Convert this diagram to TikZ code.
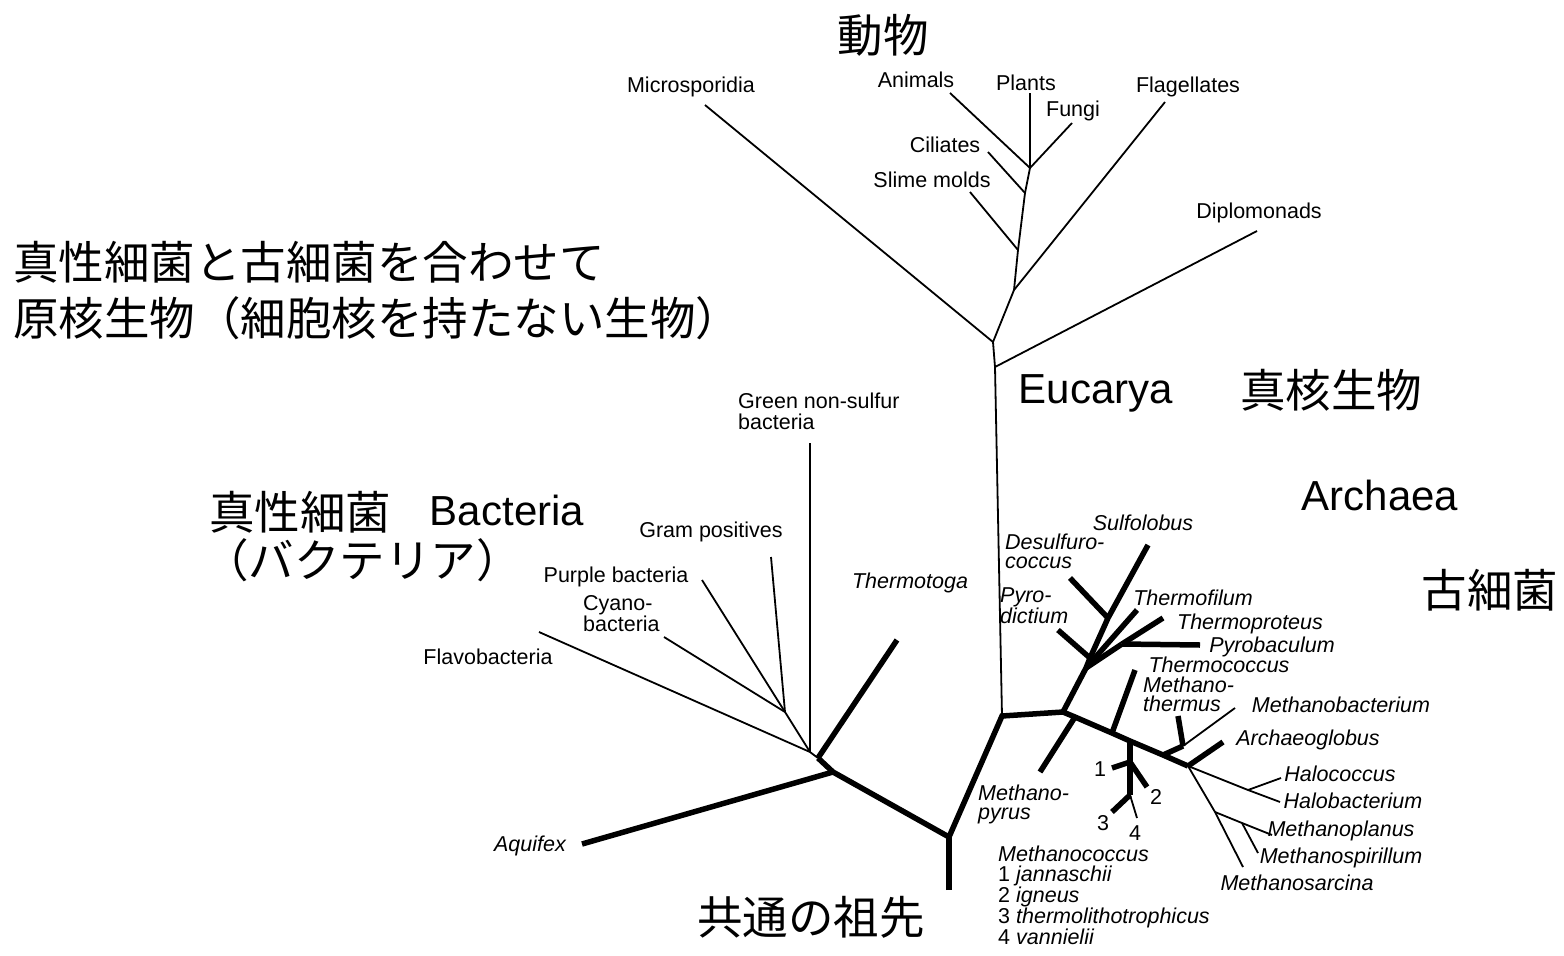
\documentclass[tikz,border=0pt]{standalone}
\usepackage{fontspec}
\setmainfont{Liberation Sans}
\newfontfamily\jp{Noto Sans CJK JP}
\begin{document}
\begin{tikzpicture}[x=1pt,y=-1pt,
  br/.style={line width=1.8pt},
  tk/.style={line width=5.5pt},
  lab/.style={font=\fontsize{21.5}{21}\selectfont, inner sep=0pt},
  ilab/.style={font=\fontsize{21.5}{21}\selectfont\itshape, inner sep=0pt},
  lab2/.style={font=\fontsize{21.5}{21}\selectfont, inner sep=0pt, align=left, anchor=west},
  ilab2/.style={font=\fontsize{21.5}{19}\selectfont\itshape, inner sep=0pt, align=left, anchor=west},
  big/.style={font=\fontsize{42}{45}\selectfont, inner sep=0pt},
  jlab/.style={font=\fontsize{45.5}{56}\selectfont\jp, inner sep=0pt},
]
\useasboundingbox (0,0) rectangle (1564,956);
% ---------- coordinates ----------
% root
\coordinate (rb) at (949,890);
\coordinate (r0) at (949,837);
% bacteria
\coordinate (bj) at (833,772);
\coordinate (b0) at (818,758);
\coordinate (bf) at (810,752);
\coordinate (bg) at (785,712);
\coordinate (aq) at (582,844);
\coordinate (tt) at (897,640);
\coordinate (gn) at (810,443);
\coordinate (gp) at (771,557);
\coordinate (pu) at (702,580);
\coordinate (cy) at (664,637);
\coordinate (fl) at (539,632);
% eucarya
\coordinate (a0) at (1002,716);
\coordinate (e1) at (995,367);
\coordinate (e0) at (993,342);
\coordinate (ef) at (1014,290);
\coordinate (es) at (1018,250);
\coordinate (ec) at (1025,193);
\coordinate (et) at (1030,168);
\coordinate (mi) at (705,105);
\coordinate (di) at (1257,231);
\coordinate (fla) at (1165,102);
\coordinate (sl) at (970,192);
\coordinate (ci) at (988,152);
\coordinate (an) at (950,93);
\coordinate (pl) at (1030,93);
\coordinate (fu) at (1072,123);
% archaea
\coordinate (a1) at (1063,712);
\coordinate (c1) at (1086,668);
\coordinate (c2) at (1090,658);
\coordinate (c3) at (1108,618);
\coordinate (so) at (1148,545);
\coordinate (de) at (1070,578);
\coordinate (py) at (1058,630);
\coordinate (tf) at (1137,610);
\coordinate (t1) at (1122,644);
\coordinate (tp) at (1163,618);
\coordinate (pb) at (1200,645);
\coordinate (m1) at (1075,717);
\coordinate (m2) at (1112,733);
\coordinate (m3) at (1130,741);
\coordinate (m4) at (1163,755);
\coordinate (e5) at (1188,766);
\coordinate (mp) at (1040,772);
\coordinate (tc) at (1135,670);
\coordinate (k1) at (1130,762);
\coordinate (k1e) at (1112,768);
\coordinate (k2e) at (1147,787);
\coordinate (mc) at (1130,795);
\coordinate (k3e) at (1112,812);
\coordinate (k4e) at (1137,818);
\coordinate (mt0) at (1183,746);
\coordinate (mth) at (1178,716);
\coordinate (mb) at (1235,708);
\coordinate (ag) at (1223,742);
\coordinate (hj) at (1248,790);
\coordinate (hc) at (1281,778);
\coordinate (hb) at (1280,802);
\coordinate (mj) at (1215,812);
\coordinate (ms) at (1243,867);
\coordinate (mj2) at (1242,823);
\coordinate (mpl) at (1272,835);
\coordinate (msp) at (1258,853);

% ---------- branches ----------
% root and bacteria
\draw[tk] (rb) -- (r0);
\draw[tk] (r0) -- (bj) -- (b0);
\draw[tk] (aq) -- (bj);
\draw[tk] (b0) -- (tt);
\draw[br] (b0) -- (bf);
\draw[br] (gn) -- (bf);
\draw[br] (fl) -- (bf);
\draw[br] (bg) -- (bf);
\draw[br] (pu) -- (bg);
\draw[br] (cy) -- (bg);
\draw[br] (gp) -- (bg);
% archaea / eucarya stem
\draw[tk] (r0) -- (a0) -- (a1);
\draw[br] (a0) -- (e1) -- (e0);
% eucarya
\draw[br] (e0) -- (mi);
\draw[br] (e1) -- (di);
\draw[br] (e0) -- (ef) -- (es) -- (ec) -- (et);
\draw[br] (ef) -- (fla);
\draw[br] (es) -- (sl);
\draw[br] (ec) -- (ci);
\draw[br] (et) -- (an);
\draw[br] (et) -- (pl);
\draw[br] (et) -- (fu);
% crenarchaeota
\draw[tk] (a1) -- (c1) -- (c2) -- (c3) -- (so);
\draw[tk] (de) -- (c3);
\draw[tk] (py) -- (c2);
\draw[tk] (c1) -- (tf);
\draw[tk] (c1) -- (t1);
\draw[tk] (t1) -- (tp);
\draw[tk] (t1) -- (pb);
% euryarchaeota
\draw[tk] (a1) -- (m1) -- (m2) -- (m3) -- (m4) -- (e5);
\draw[tk] (m1) -- (mp);
\draw[tk] (m2) -- (tc);
\draw[tk] (m3) -- (mc);
\draw[tk] (k1) -- (k1e);
\draw[tk] (k1) -- (k2e);
\draw[tk] (mc) -- (k3e);
\draw[br] (mc) -- (k4e);
\draw[tk] (m4) -- (mt0);
\draw[tk] (mt0) -- (mth);
\draw[br] (mt0) -- (mb);
\draw[tk] (e5) -- (ag);
\draw[br] (e5) -- (hj) -- (hb);
\draw[br] (hj) -- (hc);
\draw[br] (e5) -- (mj) -- (ms);
\draw[br] (mj) -- (mj2) -- (mpl);
\draw[br] (mj2) -- (msp);

% ---------- labels ----------
\node[jlab] (jdobutsu) at (883,35) {動物};
\node[jlab,anchor=west] (jgen1) at (13,262) {真性細菌と古細菌を合わせて};
\node[jlab,anchor=west] (jgen2) at (13,318) {原核生物（細胞核を持たない生物）};
\node[big] (leuc) at (1096,393) {Eucarya};
\node[jlab] (jeuc) at (1331,390) {真核生物};
\node[jlab] (jbac) at (300,512) {真性細菌};
\node[big] (lbac) at (507,510) {Bacteria};
\node[jlab,anchor=west] (jbac2) at (203,560) {（バクテリア）};
\node[big] (larc) at (1380,495) {Archaea};
\node[jlab] (jarc) at (1490,590) {古細菌};
\node[jlab] (jroot) at (811,917) {共通の祖先};

\node[lab] (nmi) at (691,87) {Microsporidia};
\node[lab] (nan) at (916,80) {Animals};
\node[lab] (npl) at (1026,83) {Plants};
\node[lab] (nfu) at (1073,111) {Fungi};
\node[lab] (nfla) at (1188,87) {Flagellates};
\node[lab] (nci) at (945,145) {Ciliates};
\node[lab] (nsl) at (932,180) {Slime molds};
\node[lab] (ndi) at (1259,213) {Diplomonads};

\node[lab2] (ngn) at (738,411) {Green non-sulfur\\bacteria};
\node[lab] (ngp) at (711,532) {Gram positives};
\node[lab] (npu) at (616,577) {Purple bacteria};
\node[lab2] (ncy) at (583,614) {Cyano-\\bacteria};
\node[lab] (nfl) at (488,657) {Flavobacteria};
\node[ilab] (ntt) at (910,583) {Thermotoga};
\node[ilab] (naq) at (530,846) {Aquifex};

\node[ilab2] (nde) at (1005,551) {Desulfuro-\\coccus};
\node[ilab] (nso) at (1143,523) {Sulfolobus};
\node[ilab2] (npy) at (1000,606) {Pyro-\\dictium};
\node[ilab] (ntf) at (1193,598) {Thermofilum};
\node[ilab] (ntp) at (1250,624) {Thermoproteus};
\node[ilab] (npb) at (1272,647) {Pyrobaculum};
\node[ilab] (ntc) at (1219,665) {Thermococcus};
\node[ilab2] (nmth) at (1143,694) {Methano-\\thermus};
\node[ilab] (nmb) at (1341,705) {Methanobacterium};
\node[ilab] (nag) at (1308,740) {Archaeoglobus};
\node[ilab] (nhc) at (1340,774) {Halococcus};
\node[ilab] (nhb) at (1353,801) {Halobacterium};
\node[ilab] (nmpl) at (1341,831) {Methanoplanus};
\node[ilab] (nmsp) at (1341,858) {Methanospirillum};
\node[ilab] (nms) at (1297,883) {Methanosarcina};
\node[ilab2] (nmp) at (978,804) {Methano-\\pyrus};

\node[lab] (n1) at (1100,769) {1};
\node[lab] (n2) at (1156,797) {2};
\node[lab] (n3) at (1103,823) {3};
\node[lab] (n4) at (1135,833) {4};
\node[font=\fontsize{21.5}{20}\selectfont, inner sep=0pt, align=left, anchor=north west] (nmc) at (998,846)
  {\textit{Methanococcus}\\1 \textit{jannaschii}\\2 \textit{igneus}\\3 \textit{thermolithotrophicus}\\4 \textit{vannielii}};
\end{tikzpicture}
\end{document}
